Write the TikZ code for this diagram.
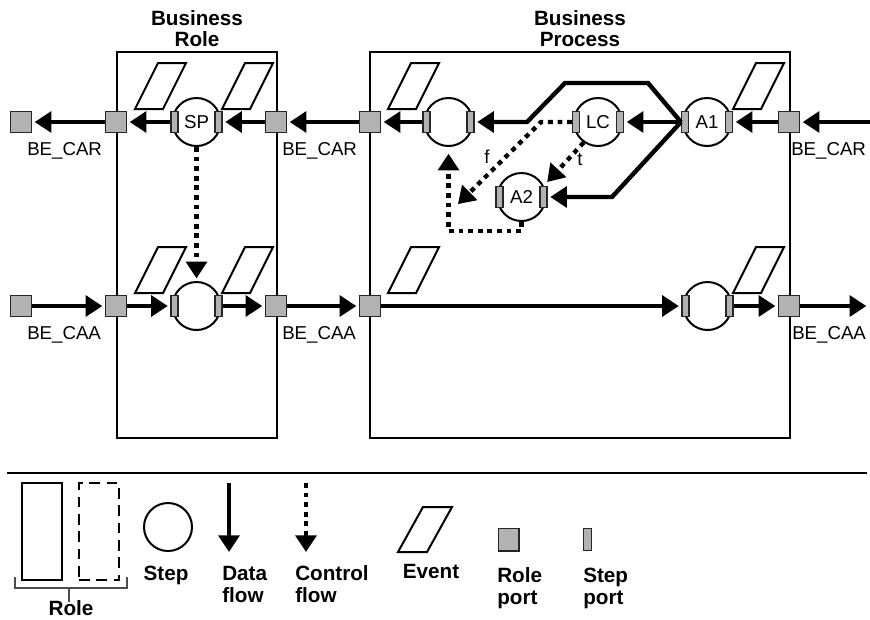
\documentclass[tikz,border=0pt]{standalone}
\usepackage{fontspec}
\setmainfont{Liberation Sans}
\usetikzlibrary{arrows.meta, positioning}
\colorlet{PortFill}{black!30}
\colorlet{PortLine}{black!85}

\begin{document}
\begin{tikzpicture}[
    x=0.75pt, y=-0.75pt,
    rolebox/.style={
        rectangle, draw=black, line width=1.6pt,
        minimum height=289.5pt, inner sep=0pt
    },
    roleport/.style={
        rectangle, draw=PortLine, fill=PortFill, line width=1pt,
        minimum width=15.5pt, minimum height=15.5pt, inner sep=0pt
    },
    stepport/.style={
        rectangle, draw=PortLine, fill=PortFill, line width=0.8pt,
        minimum width=5.25pt, minimum height=15.75pt, inner sep=0pt
    },
    stepnode/.style={
        circle, draw=black, line width=1.5pt, minimum size=36pt,
        inner sep=0pt, font=\fontsize{14}{16}\selectfont
    },
    eventline/.style={draw=black, line width=1.5pt, line join=miter},
    dataflow/.style={
        -{Triangle[length=12.5pt, width=15.5pt]}, line width=3.3pt,
        shorten >=2pt
    },
    ctrlflow/.style={
        dataflow, dash pattern=on 3.6pt off 3.6pt
    },
    titlelbl/.style={font=\bfseries\fontsize{15.5}{15.75}\selectfont,
        align=center, inner sep=0pt},
    portlbl/.style={font=\fontsize{14}{16}\selectfont, inner sep=0pt},
    legendlbl/.style={font=\bfseries\fontsize{15.5}{16.5}\selectfont,
        align=left, inner sep=0pt}
]
\useasboundingbox (0,0) rectangle (870,619);

% ===================================================================
% Role boxes
% ===================================================================
\node[rolebox, minimum width=120pt] (brBox) at (197,245) {};
\node[rolebox, minimum width=315pt] (bpBox) at (580,245) {};
\node[titlelbl, above=3pt of brBox] (brTitle) {Business\\Role};
\node[titlelbl, above=3pt of bpBox] (bpTitle) {Business\\Process};

% Events
\foreach \ex/\ey in {135/109, 222/109, 388/109, 733/109,
                     135/293, 222/293, 388/293, 733/293}
    \draw[eventline] (\ex,\ey) -- ++(23,-46) -- ++(28,0) -- ++(-23,46) -- cycle;

% ===================================================================
% Steps and step ports
% ===================================================================
\node[stepnode] (stSP) at (196.5,122) {SP};
\node[stepnode] (bpS1) at (448.5,122) {};
\node[stepnode] (lc)   at (598,122) {LC};
\node[stepnode] (a1)   at (707,122) {A1};
\node[stepnode] (a2)   at (521.5,197) {A2};
\node[stepnode] (brS2) at (196.5,306) {};
\node[stepnode] (bpS2) at (707.5,306) {};

\node[stepport] (spL)   at ([xshift=-16.5pt]stSP.center) {};
\node[stepport] (spR)   at ([xshift=16.5pt]stSP.center) {};
\node[stepport] (bpS1L) at ([xshift=-16.5pt]bpS1.center) {};
\node[stepport] (bpS1R) at ([xshift=16.5pt]bpS1.center) {};
\node[stepport] (lcL)   at ([xshift=-16.5pt]lc.center) {};
\node[stepport] (lcR)   at ([xshift=16.5pt]lc.center) {};
\node[stepport] (a1L)   at ([xshift=-16.5pt]a1.center) {};
\node[stepport] (a1R)   at ([xshift=16.5pt]a1.center) {};
\node[stepport] (a2L)   at ([xshift=-16.5pt]a2.center) {};
\node[stepport] (a2R)   at ([xshift=16.5pt]a2.center) {};
\node[stepport] (brS2L) at ([xshift=-16.5pt]brS2.center) {};
\node[stepport] (brS2R) at ([xshift=16.5pt]brS2.center) {};
\node[stepport] (bpS2L) at ([xshift=-16.5pt]bpS2.center) {};
\node[stepport] (bpS2R) at ([xshift=16.5pt]bpS2.center) {};

% ===================================================================
% Role ports
% ===================================================================
\node[roleport] (rpL1)   at (21,122) {};
\node[roleport] (rpBRL1) at (116,122) {};
\node[roleport] (rpBRR1) at (276,122) {};
\node[roleport] (rpBPL1) at (370,122) {};
\node[roleport] (rpBPR1) at (789,122) {};
\node[roleport] (rpL2)   at (21,306) {};
\node[roleport] (rpBRL2) at (116,306) {};
\node[roleport] (rpBRR2) at (276,306) {};
\node[roleport] (rpBPL2) at (370,306) {};
\node[roleport] (rpBPR2) at (789,306) {};
\coordinate (inR)  at (870,122);
\coordinate (outR) at (869,306);

\node[portlbl, anchor=base west] (lblCAR1) at (27,155) {BE\_CAR};
\node[portlbl, anchor=base west] (lblCAR2) at (282,155) {BE\_CAR};
\node[portlbl, anchor=base west] (lblCAR3) at (791,155) {BE\_CAR};
\node[portlbl, anchor=base west] (lblCAA1) at (27,339) {BE\_CAA};
\node[portlbl, anchor=base west] (lblCAA2) at (282,339) {BE\_CAA};
\node[portlbl, anchor=base west] (lblCAA3) at (792,339) {BE\_CAA};

% ===================================================================
% Data flow
% ===================================================================
% row 1 (requests, right to left)
\draw[dataflow] (inR) -- (rpBPR1);
\draw[dataflow] (rpBPR1) -- (a1R);
\draw[dataflow] (a1L) -- (lcR);
\coordinate (topR) at (648,83);
\coordinate (topL) at (565,83);
\coordinate (midL) at (527,122);
\coordinate (lowR) at (612,197);
\draw[dataflow] (a1L.west) -- (topR) -- (topL) -- (midL) -- (bpS1R);
\draw[dataflow] (a1L.west) -- (lowR) -- (a2R);
\draw[dataflow] (bpS1L) -- (rpBPL1);
\draw[dataflow] (rpBPL1) -- (rpBRR1);
\draw[dataflow] (rpBRR1) -- (spR);
\draw[dataflow] (spL) -- (rpBRL1);
\draw[dataflow] (rpBRL1) -- (rpL1);

% row 2 (answers, left to right)
\draw[dataflow] (rpL2) -- (rpBRL2);
\draw[dataflow] (rpBRL2) -- (brS2L);
\draw[dataflow] (brS2R) -- (rpBRR2);
\draw[dataflow] (rpBRR2) -- (rpBPL2);
\draw[dataflow] (rpBPL2) -- (bpS2L);
\draw[dataflow] (bpS2R) -- (rpBPR2);
\draw[dataflow] (rpBPR2) -- (outR);

% ===================================================================
% Control flow
% ===================================================================
\draw[ctrlflow] (stSP) -- (brS2);
\coordinate (cfBend) at (541,122);
\coordinate (cfEnd)  at (456,206);
\draw[ctrlflow] (lcL.west) -- (cfBend) -- (cfEnd);
\node[portlbl] (lblF) at (487,157) {f};
\draw[ctrlflow, shorten >=4pt] (lc.235) -- (a2R.north);
\node[portlbl] (lblT) at (580,160) {t};
\draw[ctrlflow, shorten >=5pt] (a2.south) -- ++(0,9) -| (bpS1.south);

% ===================================================================
% LEGEND
% ===================================================================
\coordinate (sepL) at (7,473);
\coordinate (sepR) at (867,473);
\draw[line width=1.1pt] (sepL) -- (sepR);

\node[rectangle, draw, line width=1.5pt, minimum width=30pt,
      minimum height=72.75pt] (legRole) at (42,531.5) {};
\node[rectangle, draw, line width=1.5pt, dash pattern=on 8pt off 5pt,
      minimum width=30pt, minimum height=72.75pt] (legRoleD) at (99,531.5) {};
\draw[line width=0.8pt, black!70] (15,577) -- (15,588) -- (127,588) -- (127,577);
\draw[line width=0.8pt, black!70] (69,588) -- (69,602);
\node[legendlbl, anchor=base] (legRoleLbl) at (71,615.5) {Role};

\node[stepnode] (legStep) at (168,527) {};
\node[legendlbl, anchor=base] (legStepLbl) at (166,580) {Step};

\coordinate (dfA) at (229,483);
\coordinate (dfB) at (229,552);
\draw[dataflow, shorten >=0pt] (dfA) -- (dfB);
\node[legendlbl, anchor=north west] (legData) at (222,565.5) {Data\\flow};

\coordinate (cfA) at (306,483);
\coordinate (cfB) at (306,552);
\draw[ctrlflow, shorten >=0pt] (cfA) -- (cfB);
\node[legendlbl, anchor=north west] (legCtrl) at (295,565.5) {Control\\flow};

\draw[eventline] (398,552) -- ++(25,-45) -- ++(29,0) -- ++(-25,45) -- cycle;
\node[legendlbl, anchor=base] (legEvent) at (431,578) {Event};

\node[roleport, minimum height=17pt] (legRP) at (508.5,539.5) {};
\node[legendlbl, anchor=north west] (legRPLbl) at (497,567) {Role\\port};

\node[stepport, minimum width=6.5pt, minimum height=17pt] (legSP) at (587.5,539.5) {};
\node[legendlbl, anchor=north west] (legSPLbl) at (583,567.5) {Step\\port};

\end{tikzpicture}
\end{document}
